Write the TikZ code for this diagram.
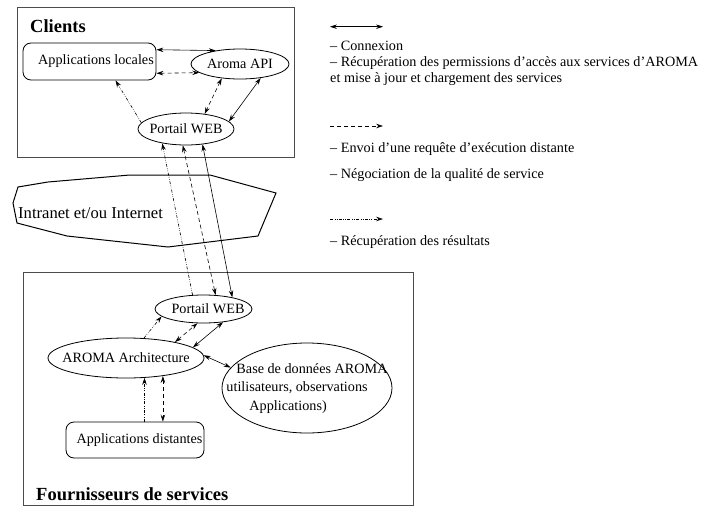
\documentclass[tikz,border=0pt]{standalone}
\usepackage{fontspec}
\setmainfont{Liberation Serif}
\usepackage{tikz}
\usetikzlibrary {arrows.meta,
                 positioning,
                 shapes.geometric}
\tikzset{
        base/.style={draw, line width=0.8pt, inner sep=0pt, font=\fontsize{14.2}{18.5}\selectfont},
        appli/.style={base, rectangle, rounded corners=8pt},
        serv/.style={base, ellipse},
        titre/.style={inner sep=0pt, anchor=base west, font=\fontsize{18.5}{22}\selectfont\bfseries},
        legende/.style={inner sep=0pt, anchor=base west, font=\fontsize{14.2}{18}\selectfont},
        cadre/.style={draw=black!70, line width=1pt},
        myarrow/.style={<->, line width=0.6pt},
        myreq/.style={myarrow, dash pattern=on 4pt off 3pt},
        myres/.style={->, line width=0.6pt, dash pattern=on 3pt off 1.5pt on 0.6pt off 1.5pt on 0.6pt off 1.5pt},
        >={Stealth[length=7pt, width=4.5pt, inset=2.5pt]},
 }
\begin{document}
\begin{tikzpicture}[x=1pt, y=-1pt]
    \useasboundingbox (0,0) rectangle (704,506);

    \draw[cadre] (17,7) rectangle (294,157);
    \draw[cadre] (23,272) rectangle (413,505);
    \draw[line width=1pt] (18,187) -- (48,182) -- (130,175) -- (210,175) -- (276,193) -- (258,236)
        -- (168,247) -- (67,236) -- (17,223) -- (13,203) -- cycle;

    \node[titre] (clients) at (30,32) {Clients};
    \node[titre] (fourn) at (36,500) {Fournisseurs de services};
    \node[legende, font=\fontsize{16.6}{20}\selectfont] (net) at (18,218) {Intranet et/ou Internet};

    \node[appli, minimum width=133, minimum height=37] (apploc) at (89.5,61.5) {\hspace*{13pt}Applications locales};
    \node[serv, minimum width=98, minimum height=30] (api) at (240,64) {\makebox[0pt]{Aroma API}};
    \node[serv, minimum width=96, minimum height=32] (web1) at (186,129) {\makebox[0pt]{Portail WEB}};
    \node[serv, minimum width=97, minimum height=28] (web2) at (203.5,309) {\makebox[0pt]{\hspace*{9pt}Portail WEB}};
    \node[serv, minimum width=156, minimum height=40] (arch) at (126,358) {\makebox[0pt]{AROMA Architecture}};
    \node[serv, minimum width=170, minimum height=90] (bdd) at (307,388) {\makebox[0pt]{\begin{tabular}{@{}l@{}}\hspace*{10pt}Base de données AROMA\\utilisateurs, observations\\\hspace*{23pt}Applications)\end{tabular}}};
    \node[appli, minimum width=138, minimum height=36] (appdist) at (135,440) {\hspace*{9pt}Applications distantes};

    \draw[myarrow] (apploc.10.6) -- (api.151);
    \draw[myreq] (apploc.-10) -- (api.192);
    \draw[myreq] (api.218) -- (web1.39);
    \draw[myarrow] (api.-34) -- (web1.10);
    \draw[myres] (web1.172) -- (apploc.-36);

    \draw[myres] (web2.128) -- (web1.211);
    \draw[myreq] (web1.259) -- (web2.49);
    \draw[myarrow] (web1.317) -- (web2.22);

    \draw[myres] (arch.48) -- (web2.190);
    \draw[myreq] (arch.18) -- (web2.247);
    \draw[myarrow] (arch.9) -- (web2.326);
    \draw[myarrow] (arch.2) -- (bdd.165);
    \draw[myres] (arch.-47 |- appdist.north) -- (arch.-47);
    \draw[myreq] (arch.-26) -- (arch.-26 |- appdist.north);

    \coordinate (l1a) at (330,26.7);
    \coordinate (l1b) at (383,26.7);
    \coordinate (l2a) at (330,126);
    \coordinate (l2b) at (383,126);
    \coordinate (l3a) at (330,219);
    \coordinate (l3b) at (383,219);
    \draw[myarrow] (l1a) -- (l1b);
    \draw[myreq, ->] (l2a) -- (l2b);
    \draw[myres] (l3a) -- (l3b);

    \node[legende] (leg1) at (330,50) {– Connexion};
    \node[legende] (leg2) at (330,66) {– Récupération des permissions d'accès aux services d'AROMA};
    \node[legende] (leg3) at (330,82) {et mise à jour et chargement des services};
    \node[legende] (leg4) at (330,152) {– Envoi d'une requête d'exécution distante};
    \node[legende] (leg5) at (330,178) {– Négociation de la qualité de service};
    \node[legende] (leg6) at (330,245) {– Récupération des résultats};
\end{tikzpicture}
\end{document}
